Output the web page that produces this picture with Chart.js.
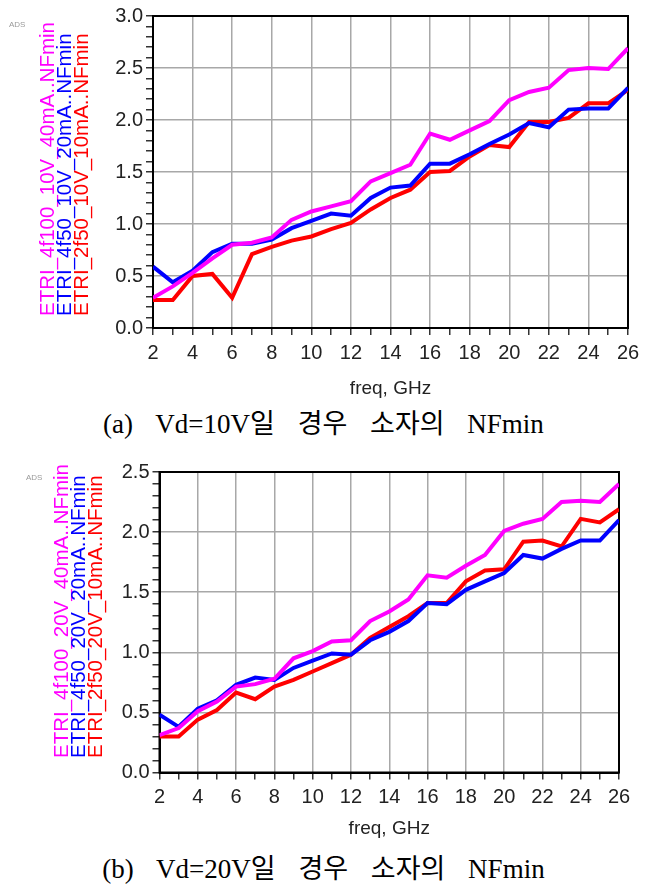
<!DOCTYPE html>
<html>
<head>
<meta charset="utf-8">
<script src="https://cdn.jsdelivr.net/npm/chart.js@4.4.0/dist/chart.umd.min.js"></script>
<style>
  body { margin: 0; background: #fff; width: 647px; height: 888px; position: relative; overflow: hidden; }
  canvas { position: absolute; left: 0; }
  .legend { position: absolute; transform-origin: 0 0; transform: rotate(-90deg); white-space: nowrap;
            font-family: "Liberation Sans", Arial, sans-serif; font-size: 20.5px; line-height: 17px; }
  .ads { position: absolute; font-family: "Liberation Sans", Arial, sans-serif; font-size: 8px; color: #9a9a9a; }
  .cap { position: absolute; left: 0; width: 647px; text-align: center; line-height: 30px;
         font-family: "Liberation Serif", "Noto Sans CJK KR", serif; font-size: 27px; word-spacing: 16px; color: #000; }
</style>
</head>
<body>
<canvas id="nf10" width="647" height="400" style="top:0"></canvas>
<canvas id="nf20" width="647" height="400" style="top:440px"></canvas>

<div class="ads" style="left:9px;top:20px">ADS</div>
<div class="legend" style="left:38px;top:316px;color:#ff00ff">ETRI_4f100_10V_40mA..NFmin</div>
<div class="legend" style="left:55px;top:316px;color:#0000ff">ETRI_4f50_10V_20mA..NFmin</div>
<div class="legend" style="left:72px;top:316px;color:#ff0000">ETRI_2f50_10V_10mA..NFmin</div>
<div class="cap" style="top:409px">(a) Vd=10V일 경우 소자의 NFmin</div>

<div class="ads" style="left:26px;top:473px">ADS</div>
<div class="legend" style="left:52px;top:758px;color:#ff00ff">ETRI_4f100_20V_40mA..NFmin</div>
<div class="legend" style="left:69px;top:758px;color:#0000ff">ETRI_4f50_20V_20mA..NFmin</div>
<div class="legend" style="left:86px;top:758px;color:#ff0000">ETRI_2f50_20V_10mA..NFmin</div>
<div class="cap" style="top:854px">(b) Vd=20V일 경우 소자의 NFmin</div>

<script>
// frequency points, GHz
const freq = [2,3,4,5,6,7,8,9,10,11,12,13,14,15,16,17,18,19,20,21,22,23,24,25,26];

// Vd = 10V, NFmin (dB)
const nf10_4f100 = [0.29,0.40,0.53,0.67,0.80,0.82,0.87,1.04,1.12,1.17,1.22,1.41,1.49,1.57,1.87,1.81,1.90,1.99,2.19,2.27,2.31,2.48,2.50,2.49,2.69];
const nf10_4f50  = [0.59,0.44,0.55,0.73,0.81,0.81,0.85,0.96,1.03,1.10,1.08,1.25,1.35,1.37,1.58,1.58,1.67,1.77,1.86,1.97,1.93,2.10,2.11,2.11,2.31];
const nf10_2f50  = [0.27,0.27,0.50,0.52,0.29,0.71,0.78,0.84,0.88,0.95,1.01,1.14,1.25,1.33,1.50,1.51,1.65,1.76,1.74,1.98,1.98,2.02,2.16,2.16,2.29];

// Vd = 20V, NFmin (dB)
const nf20_4f100 = [0.31,0.37,0.51,0.59,0.715,0.735,0.78,0.95,1.01,1.09,1.10,1.26,1.34,1.44,1.64,1.62,1.72,1.81,2.01,2.07,2.11,2.25,2.26,2.25,2.40];
const nf20_4f50  = [0.48,0.38,0.53,0.60,0.73,0.79,0.77,0.87,0.93,0.99,0.98,1.10,1.17,1.26,1.41,1.40,1.52,1.59,1.66,1.81,1.78,1.86,1.93,1.93,2.10];
const nf20_2f50  = [0.30,0.30,0.44,0.52,0.665,0.61,0.715,0.77,0.84,0.91,0.98,1.12,1.21,1.30,1.41,1.41,1.59,1.68,1.69,1.92,1.93,1.88,2.11,2.08,2.19];

Chart.defaults.font.family = "'Liberation Sans', Arial, sans-serif";
Chart.defaults.color = '#222';

const isHalf = v => Math.abs(v * 2 - Math.round(v * 2)) < 1e-6;
const isEven = v => Math.abs(v / 2 - Math.round(v / 2)) < 1e-6;

// black frame round the plot area, like ADS
const frame = {
  id: 'frame',
  beforeDatasetsDraw(chart) {
    const a = chart.chartArea, ctx = chart.ctx;
    ctx.save();
    ctx.strokeStyle = '#000';
    ctx.lineWidth = 2;
    ctx.strokeRect(a.left, a.top, a.right - a.left, a.bottom - a.top);
    ctx.restore();
  }
};

function series(data, color) {
  return {
    data: freq.map((f, i) => ({ x: f, y: data[i] })),
    borderColor: color,
    borderWidth: 4,
    pointRadius: 0,
    tension: 0,
    fill: false
  };
}

function makeChart(id, sets, yMax, pad, yWidth, xHeight, titlePad) {
  return new Chart(document.getElementById(id), {
    type: 'line',
    data: {
      datasets: [
        series(sets[0], '#ff00ff'),
        series(sets[1], '#0000ff'),
        series(sets[2], '#ff0000')
      ]
    },
    options: {
      responsive: false,
      animation: false,
      layout: { padding: pad },
      plugins: { legend: { display: false }, tooltip: { enabled: false } },
      scales: {
        x: {
          type: 'linear', min: 2, max: 26,
          afterFit: s => { s.height = xHeight; },
          ticks: { stepSize: 1, autoSkip: false, maxRotation: 0, padding: 6, font: { size: 20 },
                   callback: v => isEven(v) ? String(v) : '' },
          grid: { color: c => isEven(c.tick.value) ? '#a8a8a8' : 'rgba(0,0,0,0)', lineWidth: 1.5,
                  tickColor: '#333', tickLength: 7, tickWidth: 1.5 },
          border: { color: '#000', width: 2 },
          title: { display: true, text: 'freq, GHz', font: { size: 19 }, color: '#222',
                   padding: { top: 0, bottom: titlePad } }
        },
        y: {
          min: 0, max: yMax,
          afterFit: s => { s.width = yWidth; },
          ticks: { stepSize: 0.1, autoSkip: false, padding: 3, font: { size: 20 },
                   callback: v => isHalf(v) ? v.toFixed(1) : '' },
          grid: { color: c => isHalf(c.tick.value) ? '#a8a8a8' : 'rgba(0,0,0,0)', lineWidth: 1.5,
                  tickColor: '#333', tickLength: 7, tickWidth: 1.5 },
          border: { color: '#000', width: 2 }
        }
      }
    },
    plugins: [frame]
  });
}

makeChart('nf10', [nf10_4f100, nf10_4f50, nf10_2f50], 3.0,
          { left: 0, top: 16, right: 19, bottom: 0 }, 153, 72, 0);
makeChart('nf20', [nf20_4f100, nf20_4f50, nf20_2f50], 2.5,
          { left: 0, top: 32, right: 28, bottom: 0 }, 159.5, 67.5, 0);
</script>
</body>
</html>
